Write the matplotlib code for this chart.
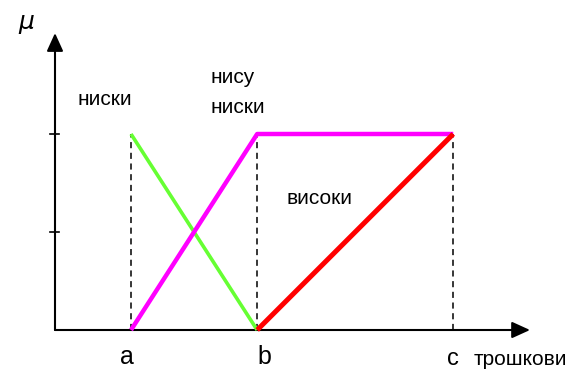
import matplotlib.pyplot as plt
from matplotlib.patches import FancyArrowPatch

# x positions of the break points (arbitrary cost units)
point_names = ['a', 'b', 'c']
point_x = [1.0, 2.66, 5.24]
mu_ticks = [0.5, 1.0]

# membership functions
low_x = [1.0, 2.66]
low_mu = [1.0, 0.0]
notlow_x = [1.0, 2.66, 5.24]
notlow_mu = [0.0, 1.0, 1.0]
high_x = [2.66, 5.24]
high_mu = [0.0, 1.0]

plt.rcParams['font.family'] = ['Liberation Sans', 'DejaVu Sans']

fig = plt.figure(figsize=(5.73, 3.70), dpi=100)
ax = fig.add_axes([0, 0, 1, 1])
ax.set_xlim(-55 / 76, 518 / 76)
ax.set_ylim(-40 / 196, 330 / 196)
ax.axis('off')

# axes with arrows
for end in [(6.25, 0), (0, 1.515)]:
    arr = FancyArrowPatch((0, 0), end, arrowstyle='-|>,head_length=11,head_width=5',
                          mutation_scale=1, color='black', lw=1.5,
                          shrinkA=0, shrinkB=0)
    ax.add_patch(arr)

# small ticks on the mu axis
for t in mu_ticks:
    ax.plot([-0.06, 0.05], [t, t], color='black', lw=1.2)

# dashed verticals
for x in point_x:
    ax.plot([x, x], [0, 1], color='black', lw=1.1, ls=(0, (4, 3)))

ax.plot(low_x, low_mu, color='#66ff33', lw=2.6, solid_capstyle='butt')
ax.plot(notlow_x, notlow_mu, color='#ff00ff', lw=3.2, solid_capstyle='butt')
ax.plot(high_x, high_mu, color='#ff0000', lw=3.6, solid_capstyle='butt')

# labels (kept just inside the bottom edge)
ax.text(point_x[0] - 0.05, -0.175, point_names[0], fontsize=18, ha='center', va='baseline')
ax.text(point_x[1] + 0.09, -0.175, point_names[1], fontsize=18, ha='center', va='baseline')
ax.text(point_x[2] + 0.0, -0.18, point_names[2], fontsize=17, ha='center', va='baseline')
ax.text(5.51, -0.18, 'трошкови', fontsize=15, ha='left', va='baseline')

ax.text(-0.38, 1.561, r'$\mu$', fontsize=18, ha='center', va='center')
ax.text(0.3, 1.148, 'ниски', fontsize=15, ha='left', va='baseline')
ax.text(2.04, 1.26, 'нису', fontsize=15, ha='left', va='baseline')
ax.text(2.04, 1.107, 'ниски', fontsize=15, ha='left', va='baseline')
ax.text(3.05, 0.643, 'високи', fontsize=15, ha='left', va='baseline')

fig.savefig('out.png', dpi=100)
